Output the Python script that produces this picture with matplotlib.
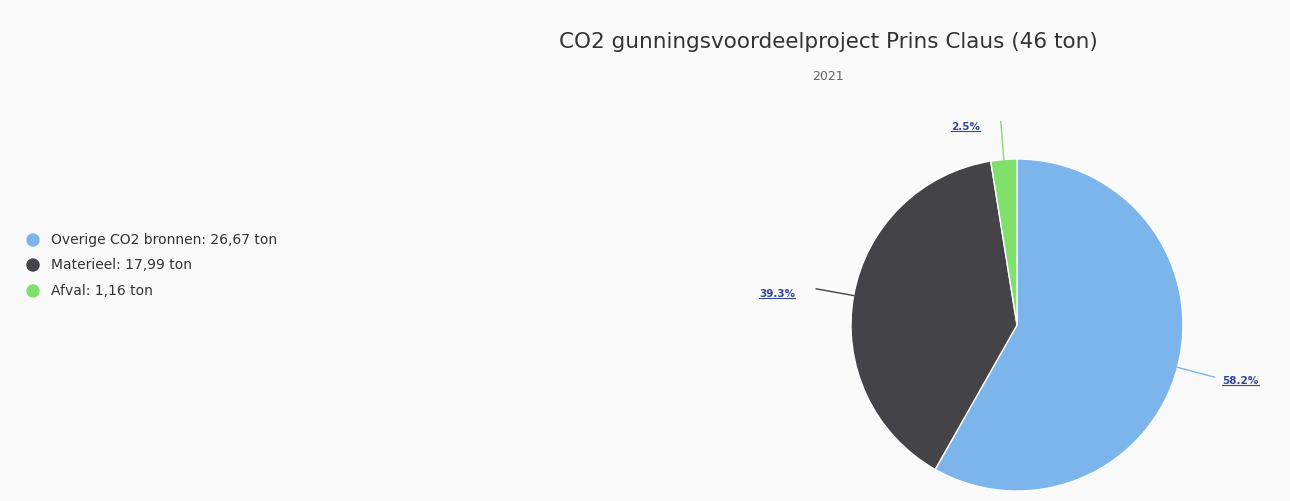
import numpy as np
import matplotlib
matplotlib.use("Agg")
import matplotlib.pyplot as plt

labels = ["Overige CO2 bronnen", "Materieel", "Afval"]
values = [26.67, 17.99, 1.16]
colors = ["#7cb5ec", "#434348", "#7fe06c"]
title = "CO2 gunningsvoordeelproject Prins Claus (46 ton)"
subtitle = "2021"

W, H = 1290, 501
fig = plt.figure(figsize=(W / 100, H / 100), dpi=100)
fig.patch.set_facecolor("#fafafa")
ax = fig.add_axes([0, 0, 1, 1])
ax.set_xlim(0, W)
ax.set_ylim(0, H)
ax.set_aspect("equal")
ax.axis("off")

cx, cy, r = 1017, H - 325, 166
wedges, _ = ax.pie(values, colors=colors, startangle=90, counterclock=False,
                   center=(cx, cy), radius=r,
                   wedgeprops=dict(edgecolor="white", linewidth=1))
ax.set_xlim(0, W)
ax.set_ylim(0, H)

total = sum(values)
label_texts = []
for w, v in zip(wedges, values):
    ang = np.deg2rad((w.theta1 + w.theta2) / 2)
    ex, ey = cx + r * np.cos(ang), cy + r * np.sin(ang)
    d = 38
    mx, my = cx + (r + d) * np.cos(ang), cy + (r + d) * np.sin(ang)
    right = np.cos(ang) >= 0
    lx = mx + (8 if right else -21)
    ax.plot([ex, mx], [ey, my], color=w.get_facecolor(), lw=1)
    t = ax.text(lx, my - (4 if right else 5), f"{v / total * 100:.1f}%",
                ha="left" if right else "right",
                va="center", fontsize=7.5, fontweight="bold", color="#34469a")
    label_texts.append(t)

fig.text(828 / W, 1 - 42 / H, title, ha="center", va="center", fontsize=15.5, color="#333333")
fig.text(828 / W, 1 - 76 / H, subtitle, ha="center", va="center", fontsize=9, color="#666666")

# legend
leg_y = [240, 265, 291]
for lab, v, c, y in zip(labels, values, colors, leg_y):
    fig.patches.append(plt.Circle((33, H - y), 6, transform=None, color=c, figure=fig))
    fig.text(51 / W, 1 - y / H, f"{lab}: {v:.2f} ton".replace(".", ","), ha="left", va="center",
             fontsize=10, color="#333333")

fig.canvas.draw()
renderer = fig.canvas.get_renderer()
for t in label_texts:
    bb = t.get_window_extent(renderer)
    fig.add_artist(plt.Line2D([bb.x0, bb.x1], [bb.y0 + 1, bb.y0 + 1], transform=None,
                              color="#34469a", lw=0.8))

fig.savefig("out.png", dpi=100, facecolor=fig.get_facecolor())
